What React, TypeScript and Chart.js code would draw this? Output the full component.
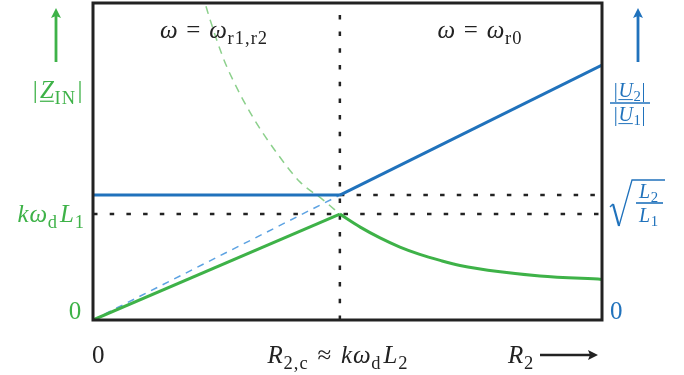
import React, { useEffect, useRef } from "react";
import { Chart, registerables } from "chart.js";

Chart.register(...registerables);

// Normalised R2 axis (0 … 1) and normalised magnitudes (0 … 1)
const R2_CRIT = 0.485; // R_2,c ≈ kω_d L_2
const Z_PEAK = 0.334; // kω_d L_1
const U_LOW = 0.394; // sqrt(L2 / L1)

// |Z_IN| rising part, ω = ω_r1,r2
const zRiseR = [0, R2_CRIT];
const zRise = [0, Z_PEAK];

// |Z_IN| falling part, ω = ω_r0
const zFallR = [0.485, 0.525, 0.564, 0.603, 0.642, 0.682, 0.721, 0.8, 0.878, 1.0];
const zFall = [0.334, 0.293, 0.259, 0.23, 0.207, 0.188, 0.172, 0.152, 0.139, 0.128];

// |Z_IN| other branch (dashed)
const zBranchR = [0.222, 0.226, 0.255, 0.275, 0.314, 0.367, 0.407, 0.452, 0.485];
const zBranch = [0.99, 0.968, 0.83, 0.757, 0.64, 0.514, 0.435, 0.379, 0.334];

// |U2| / |U1|
const uFlatR = [0, R2_CRIT];
const uFlat = [U_LOW, U_LOW];
const uRiseR = [R2_CRIT, 1];
const uRise = [U_LOW, 0.804];
const uGuideR = [0, R2_CRIT];
const uGuide = [0, U_LOW];

const GREEN = "rgb(62,178,72)";
const BLUE = "rgb(32,114,188)";
const LIGHT_GREEN = "rgb(140,208,140)";
const LIGHT_BLUE = "rgb(92,162,226)";
const DARK = "#222";
const FONT = '"Liberation Serif", "Times New Roman", serif';
const SUB = 0.74;

type Seg = { t?: string; it?: boolean; sub?: boolean; ul?: boolean; gap?: number };

const pts = (xs: number[], ys: number[]) => xs.map((x, i) => ({ x, y: ys[i] }));

function segFont(s: Seg, size: number) {
  const sz = s.sub ? size * SUB : size;
  return `${s.it ? "italic " : ""}${sz}px ${FONT}`;
}

function segSpacing(s: Seg, size: number) {
  return s.sub ? size * 0.04 : size * 0.03;
}

function segWidth(ctx: CanvasRenderingContext2D, s: Seg, size: number) {
  if (s.gap !== undefined) return s.gap * size;
  ctx.font = segFont(s, size);
  const t = s.t || "";
  return ctx.measureText(t).width + t.length * segSpacing(s, size);
}

function measureRich(ctx: CanvasRenderingContext2D, segs: Seg[], size: number) {
  return segs.reduce((w, s) => w + segWidth(ctx, s, size), 0);
}

function drawRich(
  ctx: CanvasRenderingContext2D,
  segs: Seg[],
  x: number,
  y: number,
  size: number,
  color: string,
  align: "left" | "center" | "right" = "left"
) {
  const w = measureRich(ctx, segs, size);
  let cx = align === "left" ? x : align === "center" ? x - w / 2 : x - w;
  ctx.save();
  ctx.fillStyle = color;
  ctx.strokeStyle = color;
  ctx.textAlign = "left";
  ctx.textBaseline = "alphabetic";
  for (const s of segs) {
    if (s.gap !== undefined) {
      cx += s.gap * size;
      continue;
    }
    ctx.font = segFont(s, size);
    const sp = segSpacing(s, size);
    const dy = s.sub ? size * 0.22 : 0;
    const start = cx;
    for (const ch of s.t || "") {
      ctx.fillText(ch, cx, y + dy);
      cx += ctx.measureText(ch).width + sp;
    }
    if (s.ul) {
      ctx.lineWidth = Math.max(1, size * 0.05);
      ctx.beginPath();
      ctx.moveTo(start, y + size * 0.13);
      ctx.lineTo(cx - sp, y + size * 0.13);
      ctx.stroke();
    }
  }
  ctx.restore();
}

function arrowUp(ctx: CanvasRenderingContext2D, x: number, y0: number, y1: number, color: string) {
  ctx.save();
  ctx.strokeStyle = color;
  ctx.fillStyle = color;
  ctx.lineWidth = 2.8;
  ctx.beginPath();
  ctx.moveTo(x, y0);
  ctx.lineTo(x, y1 + 6);
  ctx.stroke();
  ctx.beginPath();
  ctx.moveTo(x, y1);
  ctx.lineTo(x - 5, y1 + 10);
  ctx.lineTo(x, y1 + 8);
  ctx.lineTo(x + 5, y1 + 10);
  ctx.closePath();
  ctx.fill();
  ctx.restore();
}

function arrowRight(ctx: CanvasRenderingContext2D, x0: number, x1: number, y: number, color: string) {
  ctx.save();
  ctx.strokeStyle = color;
  ctx.fillStyle = color;
  ctx.lineWidth = 2.6;
  ctx.beginPath();
  ctx.moveTo(x0, y);
  ctx.lineTo(x1 - 5, y);
  ctx.stroke();
  ctx.beginPath();
  ctx.moveTo(x1, y);
  ctx.lineTo(x1 - 10, y - 5);
  ctx.lineTo(x1 - 8, y);
  ctx.lineTo(x1 - 10, y + 5);
  ctx.closePath();
  ctx.fill();
  ctx.restore();
}

const annotations = {
  id: "annotations",
  afterDatasetsDraw(chart: Chart) {
    const { ctx, chartArea: a } = chart;
    const size = 25;

    // frame
    ctx.save();
    ctx.strokeStyle = DARK;
    ctx.lineWidth = 3;
    ctx.strokeRect(a.left, a.top, a.right - a.left, a.bottom - a.top);
    ctx.restore();

    // regime labels
    drawRich(ctx, [{ t: "ω", it: true }, { gap: 0.32 }, { t: "=" }, { gap: 0.32 }, { t: "ω", it: true }, { t: "r1,r2", sub: true }], 214, 38, size, DARK, "center");
    drawRich(ctx, [{ t: "ω", it: true }, { gap: 0.32 }, { t: "=" }, { gap: 0.32 }, { t: "ω", it: true }, { t: "r0", sub: true }], 480, 38, size, DARK, "center");

    // left axis (|Z_IN|)
    arrowUp(ctx, 56, 62, 8, GREEN);
    drawRich(ctx, [{ t: "|" }, { gap: 0.06 }, { t: "Z", it: true, ul: true }, { t: "IN", sub: true }, { gap: 0.06 }, { t: "|" }], 58, 98, size, GREEN, "center");
    drawRich(ctx, [{ t: "kω", it: true }, { t: "d", sub: true }, { gap: 0.08 }, { t: "L", it: true }, { t: "1", sub: true }], 85, 222, size, GREEN, "right");
    drawRich(ctx, [{ t: "0" }], 82, 319, size, GREEN, "right");

    // right axis (|U2| / |U1|)
    arrowUp(ctx, 638, 62, 8, BLUE);
    const fs = 20;
    drawRich(ctx, [{ t: "|" }, { t: "U", it: true, ul: true }, { t: "2", sub: true }, { t: "|" }], 630, 97, fs, BLUE, "center");
    drawRich(ctx, [{ t: "|" }, { t: "U", it: true, ul: true }, { t: "1", sub: true }, { t: "|" }], 630, 121, fs, BLUE, "center");
    ctx.save();
    ctx.strokeStyle = BLUE;
    ctx.fillStyle = BLUE;
    ctx.lineWidth = 1.6;
    ctx.beginPath();
    ctx.moveTo(610, 103);
    ctx.lineTo(650, 103);
    ctx.stroke();
    // radical sign
    ctx.lineWidth = 1.4;
    ctx.beginPath();
    ctx.moveTo(610, 207);
    ctx.lineTo(613, 204);
    ctx.stroke();
    ctx.lineWidth = 2.2;
    ctx.beginPath();
    ctx.moveTo(613, 204);
    ctx.lineTo(619, 226);
    ctx.stroke();
    ctx.lineWidth = 1.3;
    ctx.beginPath();
    ctx.moveTo(619, 226);
    ctx.lineTo(632, 180);
    ctx.lineTo(665, 180);
    ctx.stroke();
    ctx.lineWidth = 1.6;
    ctx.beginPath();
    ctx.moveTo(636, 203);
    ctx.lineTo(663, 203);
    ctx.stroke();
    ctx.restore();
    drawRich(ctx, [{ t: "L", it: true }, { t: "2", sub: true }], 649, 198, 20, BLUE, "center");
    drawRich(ctx, [{ t: "L", it: true }, { t: "1", sub: true }], 649, 222, 20, BLUE, "center");
    drawRich(ctx, [{ t: "0" }], 610, 319, size, BLUE, "left");

    // bottom axis (R2)
    drawRich(ctx, [{ t: "0" }], 92, 363, size, DARK, "left");
    drawRich(
      ctx,
      [
        { t: "R", it: true },
        { t: "2,c", sub: true },
        { gap: 0.36 },
        { t: "≈" },
        { gap: 0.36 },
        { t: "kω", it: true },
        { t: "d", sub: true },
        { gap: 0.08 },
        { t: "L", it: true },
        { t: "2", sub: true },
      ],
      338,
      363,
      size,
      DARK,
      "center"
    );
    drawRich(ctx, [{ t: "R", it: true }, { t: "2", sub: true }], 508, 363, size, DARK, "left");
    arrowRight(ctx, 540, 598, 355, DARK);
  },
};

export default function App() {
  const ref = useRef<HTMLCanvasElement | null>(null);

  useEffect(() => {
    if (!ref.current) return;
    const dotted = { borderColor: DARK, borderWidth: 2.5, borderDash: [4.5, 12.2], pointRadius: 0, order: 5 };
    const chart = new Chart(ref.current, {
      type: "line",
      data: {
        datasets: [
          { ...dotted, data: pts([R2_CRIT, R2_CRIT], [0, 1]) },
          { ...dotted, data: pts([0, 1], [Z_PEAK, Z_PEAK]) },
          { ...dotted, data: pts([R2_CRIT, 1], [U_LOW, U_LOW]) },
          { data: pts(zBranchR, zBranch), borderColor: LIGHT_GREEN, borderWidth: 1.5, borderDash: [8, 6], pointRadius: 0, cubicInterpolationMode: "monotone", order: 4 },
          { data: pts(uGuideR, uGuide), borderColor: LIGHT_BLUE, borderWidth: 1.5, borderDash: [7, 6], pointRadius: 0, order: 4 },
          { data: pts(uFlatR, uFlat), borderColor: BLUE, borderWidth: 3, pointRadius: 0, order: 2 },
          { data: pts(uRiseR, uRise), borderColor: BLUE, borderWidth: 3, pointRadius: 0, order: 2 },
          { data: pts(zRiseR, zRise), borderColor: GREEN, borderWidth: 3, pointRadius: 0, order: 1 },
          { data: pts(zFallR, zFall), borderColor: GREEN, borderWidth: 3, pointRadius: 0, cubicInterpolationMode: "monotone", order: 1 },
        ],
      } as any,
      options: {
        animation: false,
        responsive: false,
        devicePixelRatio: 1,
        layout: { padding: { left: 93, right: 82, top: 3, bottom: 55 } },
        plugins: { legend: { display: false }, tooltip: { enabled: false } },
        scales: {
          x: { type: "linear", min: 0, max: 1, display: false },
          y: { type: "linear", min: 0, max: 1, display: false },
        },
      },
      plugins: [annotations],
    });
    return () => chart.destroy();
  }, []);

  return (
    <div style={{ position: "absolute", left: 0, top: 0, width: 684, height: 375, background: "#fff" }}>
      <canvas ref={ref} width={684} height={375} />
    </div>
  );
}
